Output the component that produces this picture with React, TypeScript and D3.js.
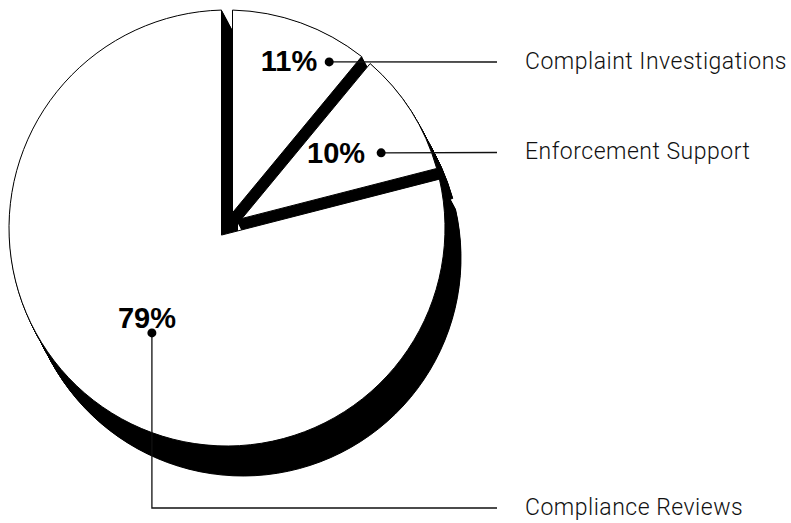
import { useEffect, useRef } from 'react';
import * as d3 from 'd3';

// data
const categories = ['Complaint Investigations', 'Enforcement Support', 'Compliance Reviews'];
const values = [11, 10, 79];
const percentLabels = ['11%', '10%', '79%'];

const WIDTH = 791;
const HEIGHT = 523;
const CX = 227;
const CY = 228;
const RADIUS = 218;
const HALF_GAP = 5.5; // half the space between neighbouring slices
const DEPTH: [number, number] = [16, 30]; // extrusion of the black "side"
const STEPS = 34;

// callout layout per slice: dot in polar coords (deg, r), text offset, label row y
const dotPolar: [number, number][] = [[31.6, 195], [64, 171.5], [215.6, 129]];
const pctOffset: [number, number, string][] = [[-12, 9, 'end'], [-16, 10, 'end'], [-5, -5, 'middle']];
const labelRowY = [62, 152.5, 508];
const LEADER_END = 497;
const LABEL_X = 525;

function slicePath(a0: number, a1: number, r: number, h: number) {
  const half = (a1 - a0) / 2;
  const mid = (a0 + a1) / 2;
  const d = h / Math.sin(half);
  const vx = d * Math.sin(mid);
  const vy = -d * Math.cos(mid);
  const t = Math.sqrt(r * r - h * h);
  const c0x = t * Math.sin(a0) + h * Math.cos(a0);
  const c0y = -t * Math.cos(a0) + h * Math.sin(a0);
  const c1x = t * Math.sin(a1) - h * Math.cos(a1);
  const c1y = -t * Math.cos(a1) - h * Math.sin(a1);
  const p = d3.path();
  p.moveTo(vx, vy);
  p.lineTo(c0x, c0y);
  p.arc(0, 0, r, Math.atan2(c0y, c0x), Math.atan2(c1y, c1x), false);
  p.closePath();
  return p.toString();
}

export default function App() {
  const svgRef = useRef<SVGSVGElement>(null);

  useEffect(() => {
    if (!svgRef.current) return;
    const svg = d3.select(svgRef.current);
    svg.selectAll('*').remove();

    const pie = d3.pie<number>().sort(null).value(d => d)(values);
    const paths = pie.map(s => slicePath(s.startAngle, s.endAngle, RADIUS, HALF_GAP));

    const g = svg.append('g').attr('transform', `translate(${CX}, ${CY})`);

    // black sides: sweep each slice along the depth vector
    const side = g.append('g');
    const steps = d3.range(1, STEPS + 1).map(k => k / STEPS);
    paths.forEach(d => {
      steps.forEach(f => {
        side.append('path')
          .attr('d', d)
          .attr('transform', `translate(${DEPTH[0] * f}, ${DEPTH[1] * f})`)
          .attr('fill', '#000')
          .attr('stroke', '#000')
          .attr('stroke-width', 1);
      });
    });

    // white tops
    g.selectAll('path.face')
      .data(paths)
      .join('path')
      .attr('class', 'face')
      .attr('d', d => d)
      .attr('fill', '#fff')
      .attr('stroke', '#000')
      .attr('stroke-width', 1);

    // callouts
    const dots = dotPolar.map(([deg, r]) => {
      const a = (deg * Math.PI) / 180;
      return [CX + r * Math.sin(a), CY - r * Math.cos(a)] as [number, number];
    });

    const line = d3.line();
    dots.forEach(([x, y], i) => {
      const pts: [number, number][] = i === 2
        ? [[x, y], [x, labelRowY[i]], [LEADER_END, labelRowY[i]]]
        : [[x, y], [LEADER_END, labelRowY[i]]];
      svg.append('path')
        .attr('d', line(pts) || '')
        .attr('fill', 'none')
        .attr('stroke', '#111')
        .attr('stroke-width', 1.3);
      svg.append('circle')
        .attr('cx', x)
        .attr('cy', y)
        .attr('r', 4.5)
        .attr('fill', '#000');
      svg.append('text')
        .attr('x', x + pctOffset[i][0])
        .attr('y', y + pctOffset[i][1])
        .attr('text-anchor', pctOffset[i][2])
        .attr('font-family', '"Liberation Sans", Arial, sans-serif')
        .attr('font-weight', 700)
        .attr('font-size', 29)
        .attr('fill', '#000')
        .text(percentLabels[i]);
      svg.append('text')
        .attr('x', LABEL_X)
        .attr('y', labelRowY[i] + 6.5)
        .attr('font-family', 'Roboto, "Liberation Sans", sans-serif')
        .attr('font-weight', 300)
        .attr('font-size', 23)
        .attr('letter-spacing', 0.5)
        .attr('fill', '#111')
        .text(categories[i]);
    });
  }, []);

  return (
    <svg
      ref={svgRef}
      width={WIDTH}
      height={HEIGHT}
      viewBox={`0 0 ${WIDTH} ${HEIGHT}`}
      style={{ position: 'absolute', left: 0, top: 0, background: '#fff' }}
    />
  );
}
